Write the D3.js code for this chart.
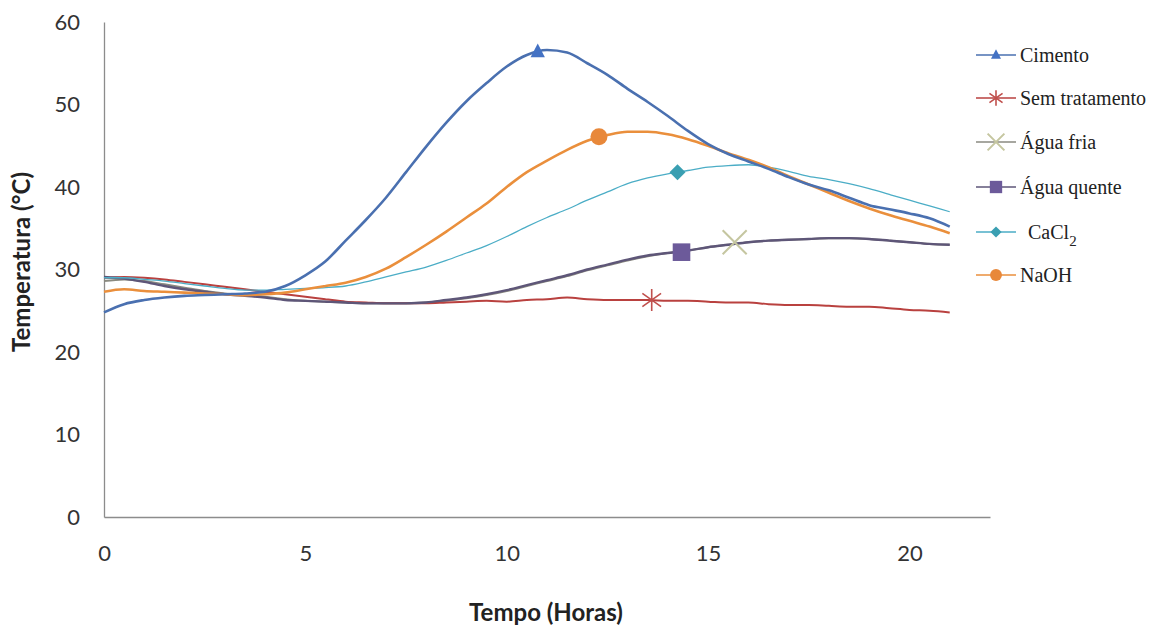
<!DOCTYPE html>
<html>
<head>
<meta charset="utf-8">
<script src="https://cdn.jsdelivr.net/npm/d3@7"></script>
<style>
  body { margin: 0; background: #fff; }
  svg { display: block; }
  .tick text { font-family: Lato, "Open Sans", sans-serif; font-size: 22px; fill: #333; }
  .axis-title { font-family: Lato, "Open Sans", sans-serif; font-weight: bold; font-size: 24px; fill: #222; }
  .legend text { font-family: "Liberation Serif", "DejaVu Serif", serif; font-size: 20px; fill: #222; }
</style>
</head>
<body>
<div id="chart"></div>
<script>
// hours, every half hour
const hours = d3.range(0, 21.01, 0.5);

const cimento = [24.8, 25.8, 26.3, 26.6, 26.8, 26.9, 27.0, 27.1, 27.3, 28.0, 29.3, 31.0, 33.5, 36.0, 38.7,
  41.8, 44.9, 47.8, 50.4, 52.6, 54.6, 56.0, 56.6, 56.3, 55.0, 53.6, 51.9, 50.3, 48.6, 46.8, 45.2,
  44.0, 43.1, 42.2, 41.2, 40.3, 39.6, 38.7, 37.8, 37.3, 36.8, 36.2, 35.2];
const semTratamento = [29.0, 29.1, 29.0, 28.8, 28.5, 28.2, 27.9, 27.6, 27.3, 27.0, 26.7, 26.4, 26.1, 26.0, 25.9,
  25.9, 25.9, 26.0, 26.1, 26.2, 26.1, 26.3, 26.4, 26.6, 26.4, 26.3, 26.3, 26.3, 26.2, 26.2, 26.1,
  26.0, 26.0, 25.8, 25.7, 25.7, 25.6, 25.5, 25.5, 25.3, 25.1, 25.0, 24.8];
const aguaFria = [28.6, 28.8, 28.6, 28.2, 27.8, 27.4, 27.1, 26.9, 26.7, 26.4, 26.2, 26.1, 26.0, 25.9, 25.9,
  25.9, 26.0, 26.2, 26.5, 26.9, 27.4, 28.0, 28.6, 29.2, 29.9, 30.5, 31.1, 31.6, 32.0, 32.3, 32.7,
  33.0, 33.3, 33.5, 33.6, 33.7, 33.8, 33.8, 33.7, 33.5, 33.3, 33.1, 33.0];
const aguaQuente = [29.1, 28.9, 28.5, 28.0, 27.6, 27.3, 27.0, 26.8, 26.6, 26.3, 26.2, 26.1, 26.0, 25.9, 25.9,
  25.9, 26.0, 26.3, 26.6, 27.0, 27.5, 28.1, 28.7, 29.3, 30.0, 30.6, 31.2, 31.7, 32.0, 32.3, 32.7,
  33.0, 33.3, 33.5, 33.6, 33.7, 33.8, 33.8, 33.7, 33.5, 33.3, 33.1, 33.0];
const cacl2 = [29.0, 29.0, 28.8, 28.6, 28.3, 28.0, 27.7, 27.5, 27.5, 27.6, 27.7, 27.8, 28.0, 28.5, 29.1,
  29.7, 30.3, 31.1, 32.0, 32.9, 34.0, 35.2, 36.3, 37.3, 38.4, 39.4, 40.4, 41.1, 41.6, 42.0, 42.4,
  42.6, 42.7, 42.4, 41.9, 41.3, 40.9, 40.4, 39.8, 39.1, 38.4, 37.7, 37.0];
const naoh = [27.3, 27.6, 27.4, 27.3, 27.2, 27.1, 27.0, 26.9, 27.0, 27.2, 27.6, 28.0, 28.4, 29.1, 30.1,
  31.5, 33.0, 34.6, 36.3, 38.0, 40.0, 41.8, 43.2, 44.5, 45.6, 46.3, 46.7, 46.7, 46.4, 45.8, 45.0,
  44.1, 43.3, 42.4, 41.3, 40.3, 39.3, 38.3, 37.4, 36.6, 35.9, 35.2, 34.4];

const seriesNames = ["Cimento", "Sem tratamento", "Água fria", "Água quente", "CaCl2", "NaOH"];
const seriesValues = [cimento, semTratamento, aguaFria, aguaQuente, cacl2, naoh];
// one marker per series: [hour, temperature]
const markerPoints = [[10.77, 56.4], [13.6, 26.3], [15.66, 33.3], [14.34, 32.1], [14.24, 41.8], [12.29, 46.1]];

const xTicks = [0, 5, 10, 15, 20];
const yTicks = [0, 10, 20, 30, 40, 50, 60];

const styles = [
  {line: "#4a70b0", marker: "#4472c4", width: 2.6, shape: "triangle"},
  {line: "#b9413f", marker: "#c0504d", width: 2, shape: "star"},
  {line: "#8a8a80", marker: "#c5c6a0", width: 2, shape: "x"},
  {line: "#5e5678", marker: "#6c5a9a", width: 2.4, shape: "square"},
  {line: "#4badc6", marker: "#3a9fb2", width: 1.3, shape: "diamond"},
  {line: "#ea8f3c", marker: "#e8883a", width: 2.6, shape: "circle"}
];

const width = 1159, height = 628;
const margin = {left: 104, top: 22, right: 169, bottom: 111};

const svg = d3.select("#chart").append("svg")
  .attr("width", width)
  .attr("height", height);

const x = d3.scaleLinear().domain([0, 22]).range([margin.left, width - margin.right]);
const y = d3.scaleLinear().domain([0, 60]).range([height - margin.bottom, margin.top]);

// axes
const xAxis = svg.append("g")
  .attr("transform", `translate(0,${height - margin.bottom})`)
  .call(d3.axisBottom(x).tickValues(xTicks).tickSize(0).tickPadding(28));
const yAxis = svg.append("g")
  .attr("transform", `translate(${margin.left},0)`)
  .call(d3.axisLeft(y).tickValues(yTicks).tickSize(0).tickPadding(24));
[xAxis, yAxis].forEach(a => a.select(".domain").attr("stroke", "#8c8c8c").attr("stroke-width", 1.3));

svg.append("text")
  .attr("class", "axis-title")
  .attr("x", 546).attr("y", 621)
  .attr("text-anchor", "middle")
  .text("Tempo (Horas)");

svg.append("text")
  .attr("class", "axis-title")
  .attr("transform", "translate(30,262) rotate(-90)")
  .attr("text-anchor", "middle")
  .text("Temperatura (°C)");

const line = d3.line()
  .x((d, i) => x(hours[i]))
  .y(d => y(d))
  .curve(d3.curveMonotoneX);

// marker shapes
function drawMarker(g, shape, color, cx, cy, s) {
  if (shape === "triangle") {
    g.append("path").attr("d", `M${cx},${cy - s * 0.75}L${cx + s * 0.65},${cy + s * 0.5}L${cx - s * 0.65},${cy + s * 0.5}Z`)
      .attr("fill", color);
  } else if (shape === "square") {
    g.append("rect").attr("x", cx - s * 0.8).attr("y", cy - s * 0.8).attr("width", s * 1.6).attr("height", s * 1.6)
      .attr("fill", color);
  } else if (shape === "diamond") {
    g.append("path").attr("d", `M${cx},${cy - s}L${cx + s},${cy}L${cx},${cy + s}L${cx - s},${cy}Z`)
      .attr("fill", color);
  } else if (shape === "circle") {
    g.append("circle").attr("cx", cx).attr("cy", cy).attr("r", s * 0.85).attr("fill", color);
  } else if (shape === "x") {
    g.append("path").attr("d", `M${cx - s},${cy - s}L${cx + s},${cy + s}M${cx - s},${cy + s}L${cx + s},${cy - s}`)
      .attr("stroke", color).attr("stroke-width", 2).attr("fill", "none");
  } else if (shape === "star") {
    g.append("path").attr("d", `M${cx},${cy - s}L${cx},${cy + s}M${cx - s * 0.85},${cy - s * 0.6}L${cx + s * 0.85},${cy + s * 0.6}M${cx - s * 0.85},${cy + s * 0.6}L${cx + s * 0.85},${cy - s * 0.6}`)
      .attr("stroke", color).attr("stroke-width", 1.6).attr("fill", "none");
  }
}

const markerSize = [11, 11, 12, 11, 8, 10];

// draw lines (back to front as in the picture)
const order = [2, 1, 3, 4, 5, 0];
order.forEach(i => {
  svg.append("path")
    .attr("d", line(seriesValues[i]))
    .attr("fill", "none")
    .attr("stroke", styles[i].line)
    .attr("stroke-width", styles[i].width)
    .attr("stroke-linejoin", "round");
});
order.forEach(i => {
  const [h, t] = markerPoints[i];
  drawMarker(svg.append("g"), styles[i].shape, styles[i].marker, x(h), y(t), markerSize[i]);
});

// legend
const legendY = [55, 98, 142, 187, 232, 275];
const legend = svg.append("g").attr("class", "legend");
seriesNames.forEach((name, i) => {
  const g = legend.append("g").attr("transform", `translate(0,${legendY[i]})`);
  g.append("line").attr("x1", 976).attr("x2", 1016).attr("y1", 0).attr("y2", 0)
    .attr("stroke", styles[i].line).attr("stroke-width", 1.3);
  drawMarker(g, styles[i].shape, styles[i].marker, 996, 0, markerSize[i] * 0.7);
  const t = g.append("text").attr("x", 1020).attr("y", 7);
  if (name === "CaCl2") {
    t.attr("x", 1028);
    t.append("tspan").text("CaCl");
    t.append("tspan").attr("dy", 7).attr("font-size", 15).text("2");
  } else {
    t.text(name);
  }
});
</script>
</body>
</html>
